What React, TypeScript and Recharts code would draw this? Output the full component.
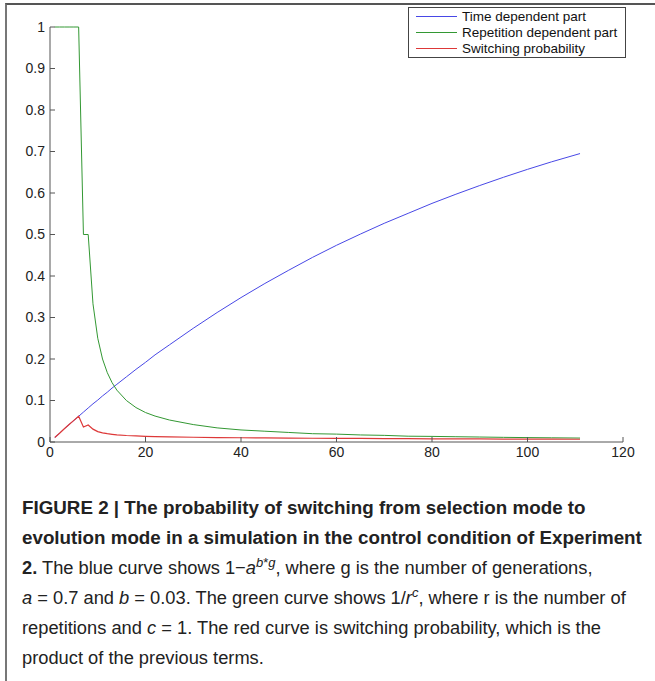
import React from 'react';
import { LineChart, Line, XAxis, YAxis, Legend } from 'recharts';

const generations = [1, 2, 3, 4, 5, 6, 7, 8, 9, 10, 11, 12, 13, 14, 16, 18, 20, 22, 25, 30, 35, 40, 45, 50, 55, 60, 65, 70, 75, 80, 85, 90, 95, 100, 105, 111];
const timePart = [0.011, 0.021, 0.032, 0.042, 0.052, 0.062, 0.072, 0.082, 0.092, 0.101, 0.111, 0.120, 0.130, 0.139, 0.157, 0.175, 0.192, 0.210, 0.234, 0.274, 0.312, 0.348, 0.382, 0.414, 0.445, 0.474, 0.501, 0.527, 0.551, 0.575, 0.597, 0.618, 0.638, 0.657, 0.675, 0.695];
const repetitionPart = [1, 1, 1, 1, 1, 1, 0.5, 0.5, 0.333, 0.25, 0.2, 0.167, 0.143, 0.125, 0.1, 0.083, 0.071, 0.0625, 0.053, 0.042, 0.034, 0.029, 0.026, 0.023, 0.020, 0.019, 0.017, 0.016, 0.014, 0.0135, 0.0127, 0.012, 0.0112, 0.0106, 0.0101, 0.0095];
const switchingProb = [0.011, 0.021, 0.032, 0.042, 0.052, 0.062, 0.036, 0.041, 0.031, 0.025, 0.022, 0.020, 0.0186, 0.0174, 0.0157, 0.0146, 0.0137, 0.0131, 0.0124, 0.0114, 0.0106, 0.0102, 0.0098, 0.0094, 0.0090, 0.0088, 0.0085, 0.0082, 0.0079, 0.0077, 0.0075, 0.0073, 0.0071, 0.0069, 0.0068, 0.0066];

const xTicks = [0, 20, 40, 60, 80, 100, 120];
const yTicks = [0, 0.1, 0.2, 0.3, 0.4, 0.5, 0.6, 0.7, 0.8, 0.9, 1];
const seriesNames = ['Time dependent part', 'Repetition dependent part', 'Switching probability'];

const data = generations.map((g, i) => ({
  g,
  time: timePart[i],
  rep: repetitionPart[i],
  sw: switchingProb[i],
}));

const LegendBox = (props: any) => {
  const payload = [...(props.payload || [])].sort(
    (a: any, b: any) => seriesNames.indexOf(a.value) - seriesNames.indexOf(b.value)
  );
  return (
    <div style={{ border: '1px solid #444', background: '#fff', padding: '0 0 1px 0', fontFamily: 'Arial, "Liberation Sans", sans-serif', fontSize: 13.5, color: '#111', boxSizing: 'border-box' }}>
      {payload.map((p: any, i: number) => (
        <div key={i} style={{ display: 'flex', alignItems: 'center', height: 16 }}>
          <div style={{ width: 41, height: 0, borderTop: `1px solid ${p.color}`, marginLeft: 7, marginRight: 5 }} />
          <span style={{ whiteSpace: 'nowrap' }}>{p.value}</span>
        </div>
      ))}
    </div>
  );
};

const tickStyle = { fontFamily: 'Arial, "Liberation Sans", sans-serif', fontSize: 14, fill: '#222' };

export default function App() {
  return (
    <div style={{ position: 'absolute', left: 0, top: 0, width: 655, height: 681, background: '#fff', overflow: 'hidden' }}>
      <div style={{ position: 'absolute', left: 5, top: 3, width: 650, height: 678, borderTop: '2px solid #555', borderLeft: '2px solid #777', boxSizing: 'border-box' }} />
      <div style={{ position: 'absolute', left: 0, top: 0 }}>
        <LineChart width={655} height={470} data={data} margin={{ top: 27, right: 32, left: 0, bottom: 0 }}>
          <XAxis
            dataKey="g"
            type="number"
            domain={[0, 120]}
            ticks={xTicks}
            interval={0}
            height={28}
            tickSize={-5}
            tickMargin={10}
            stroke="#555"
            tick={tickStyle}
            axisLine={{ stroke: '#555' }}
            tickLine={{ stroke: '#555' }}
          />
          <YAxis
            type="number"
            domain={[0, 1]}
            ticks={yTicks}
            interval={0}
            width={50}
            tickSize={-5}
            tickMargin={10}
            stroke="#555"
            tick={tickStyle}
            axisLine={{ stroke: '#555' }}
            tickLine={{ stroke: '#555' }}
          />
          <Legend
            layout="vertical"
            align="center"
            verticalAlign="middle"
            wrapperStyle={{ left: 408, top: 7, width: 218 }}
            content={<LegendBox />}
          />
          <Line name={seriesNames[0]} dataKey="time" stroke="#4848e6" strokeWidth={1} dot={false} isAnimationActive={false} type="linear" />
          <Line name={seriesNames[1]} dataKey="rep" stroke="#339833" strokeWidth={1} dot={false} isAnimationActive={false} type="linear" />
          <Line name={seriesNames[2]} dataKey="sw" stroke="#dd3838" strokeWidth={1.2} dot={false} isAnimationActive={false} type="linear" />
        </LineChart>
      </div>
      <div style={{ position: 'absolute', left: 22, top: 493, width: 630, fontFamily: 'Arial, "Liberation Sans", sans-serif', fontSize: 18.3, lineHeight: '30px', color: '#222' }}>
        <div style={{ whiteSpace: 'nowrap', fontWeight: 'bold', fontSize: 18.8 }}>FIGURE 2 | The probability of switching from selection mode to</div>
        <div style={{ whiteSpace: 'nowrap', fontWeight: 'bold', fontSize: 18.8 }}>evolution mode in a simulation in the control condition of Experiment</div>
        <div style={{ whiteSpace: 'nowrap' }}>
          <b>2.</b> The blue curve shows 1−<i>a</i><sup style={{ fontSize: 13, lineHeight: 0 }}><i>b</i>*<i>g</i></sup>, where g is the number of generations,
        </div>
        <div style={{ whiteSpace: 'nowrap' }}>
          <i>a</i> = 0.7 and <i>b</i> = 0.03. The green curve shows 1/<i>r</i><sup style={{ fontSize: 13, lineHeight: 0 }}><i>c</i></sup>, where r is the number of
        </div>
        <div style={{ whiteSpace: 'nowrap' }}>
          repetitions and <i>c</i> = 1. The red curve is switching probability, which is the
        </div>
        <div style={{ whiteSpace: 'nowrap' }}>product of the previous terms.</div>
      </div>
    </div>
  );
}
